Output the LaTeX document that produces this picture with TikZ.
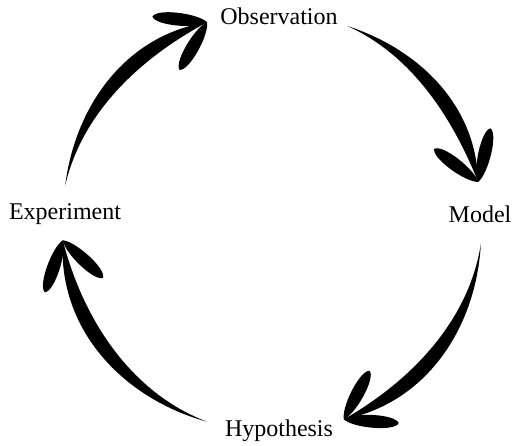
\documentclass[tikz,border=0pt]{standalone}
\usepackage{fontspec}
\setmainfont{Liberation Serif}
\usetikzlibrary{calc}

\tikzset{
  stage/.style={font=\fontsize{24}{28}\selectfont, inner sep=0pt},
  brush/.style={fill=black, draw=none},
}

\newcommand\cradius{210}
% tapered brush stroke along the circle, from angle #1 clockwise to #2
\newcommand\brusharrow[2]{%
  \pgfmathsetmacro\kk{4/3*tan((#1-#2)/4)}%
  \pgfmathsetmacro\ctrlang{atan(\kk)}%
  \pgfmathsetmacro\ff{sqrt(1+\kk*\kk)}%
  \pgfmathsetmacro\angA{#1-\ctrlang}%
  \pgfmathsetmacro\angB{#2+\ctrlang}%
  \pgfmathsetmacro\rOutA{\ff*(\cradius+4)}%
  \pgfmathsetmacro\rOutB{\ff*(\cradius+13)}%
  \pgfmathsetmacro\rInA{\ff*(\cradius-4)}%
  \pgfmathsetmacro\rInB{\ff*(\cradius-13)}%
  \fill[brush] ($(c)+(#1:\cradius)$)
    .. controls ($(c)+(\angA:\rOutA)$) and ($(c)+(\angB:\rOutB)$)
    .. ($(c)+(#2:\cradius)$)
    .. controls ($(c)+(\angB:\rInB)$) and ($(c)+(\angA:\rInA)$)
    .. cycle;
  % the two leaves of the head
  \foreach \barb in {66,132} {
    \fill[brush, shift={($(c)+(#2:\cradius)$)}, rotate=#2+\barb]
      (0,0) .. controls (10,8) and (51,9) .. (55,0)
      .. controls (51,-9) and (10,-8) .. (0,0);
  }
}

\begin{document}
\begin{tikzpicture}[x=1pt,y=1pt]
  \useasboundingbox (0,0) rectangle (514,445);
  \coordinate (c) at (272,223);

  \node[stage] (obs) at (279,429) {Observation};
  \node[stage] (model) at (480,231) {Model};
  \node[stage] (hyp) at (279,14) {Hypothesis};
  \node[stage] (exp) at (65,231) {Experiment};

  \brusharrow{170}{108}  % exp -> obs
  \brusharrow{69}{11}    % obs -> model
  \brusharrow{-6}{-70}   % model -> hyp
  \brusharrow{-108}{-175} % hyp -> exp
\end{tikzpicture}
\end{document}
